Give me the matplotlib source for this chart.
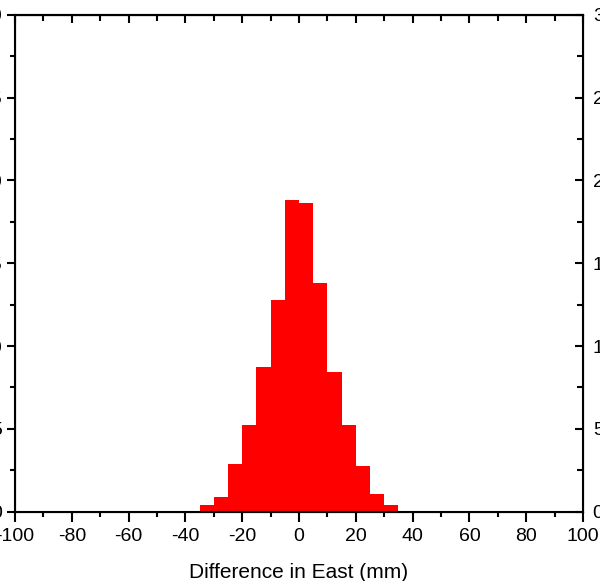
import numpy as np
import matplotlib.pyplot as plt

plt.rcParams['font.family'] = ['Liberation Sans', 'DejaVu Sans']
plt.rcParams['axes.unicode_minus'] = False
tickfont = ['Liberation Sans Narrow', 'Liberation Sans', 'DejaVu Sans']

# histogram of east differences, 5 mm bins
bin_left = [-35, -30, -25, -20, -15, -10, -5, 0, 5, 10, 15, 20, 25, 30]
freq = [0.4, 0.87, 2.9, 5.2, 8.75, 12.75, 18.8, 18.65, 13.8, 8.4, 5.25, 2.75, 1.05, 0.42]
xticks = [-100, -80, -60, -40, -20, 0, 20, 40, 60, 80, 100]
yticks = [0, 5, 10, 15, 20, 25, 30]

fig = plt.figure(figsize=(6, 5.81), dpi=100)
ax = fig.add_axes([0.025, 0.1196, 0.9467, 0.8546])

ax.bar(bin_left, freq, width=5, align='edge', color='#ff0000', linewidth=0)

ax.set_xlim(-100, 100)
ax.set_ylim(0, 30)
ax.set_xticks(xticks)
ax.set_xticks(np.arange(-90, 100, 20), minor=True)
ax.set_yticks(yticks)
ax.set_yticks(np.arange(2.5, 30, 5), minor=True)
ax.tick_params(which='major', direction='out', length=6, width=1.5, labelsize=14)
ax.tick_params(axis='x', which='major', length=7, pad=5)
ax.tick_params(which='minor', direction='out', length=3.5, width=1.5)
for lab in ax.get_xticklabels() + ax.get_yticklabels():
    lab.set_family(tickfont)
ax.set_xlabel('Difference in East (mm)', fontsize=15, labelpad=13)
for s in ax.spines.values():
    s.set_linewidth(1.5)

# mirrored right axis with labels, ticks inward
ax2 = ax.twinx()
ax2.set_ylim(0, 30)
ax2.set_yticks(yticks)
ax2.set_yticks(np.arange(2.5, 30, 5), minor=True)
ax2.tick_params(which='major', direction='in', length=6, width=1.5, labelsize=14, pad=7)
ax2.tick_params(which='minor', direction='in', length=4, width=1.5)
for lab in ax2.get_yticklabels():
    lab.set_family(tickfont)

# top axis ticks only
top = ax.secondary_xaxis('top')
top.set_xticks(xticks)
top.set_xticks(np.arange(-90, 100, 20), minor=True)
top.tick_params(which='major', direction='in', length=6, width=1.5, labeltop=False)
top.tick_params(which='minor', direction='in', length=4, width=1.5)
top.spines['top'].set_linewidth(1.5)

plt.savefig('out.png')
